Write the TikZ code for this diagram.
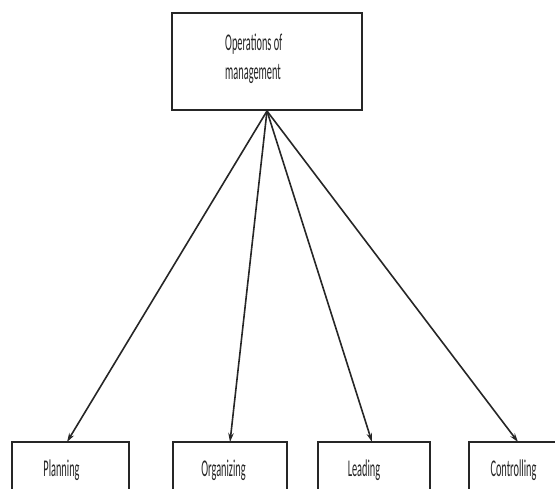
\documentclass[tikz,border=0pt]{standalone}
\usepackage{fontspec}
\newfontfamily\lbfont[FakeStretch=0.43]{Carlito}
\usetikzlibrary{arrows.meta}
\begin{document}
\begin{tikzpicture}[x=1pt,y=-1pt,
  box/.style={draw=black!85, line width=2pt, rectangle, inner sep=0pt, fill=white},
  lbl/.style={font=\lbfont\fontsize{24}{28}\selectfont, text=black!85, inner sep=0pt},
  arr/.style={-{Stealth[length=9pt,width=5.5pt]}, line width=1.6pt, draw=black!85}]
\useasboundingbox (0,0) rectangle (555,489);
\clip (0,0) rectangle (555,489);
% top box
\node[box, minimum width=190pt, minimum height=97pt] (top) at (267,61.5) {};
\node[lbl, anchor=base west] (t1) at (225,51) {Operations of};
\node[lbl, anchor=base west] (t2) at (225,80) {management};
% bottom boxes
\node[box, minimum width=117pt, minimum height=70pt] (plan) at (70.5,477) {};
\node[box, minimum width=114pt, minimum height=70pt] (org) at (230,477) {};
\node[box, minimum width=112pt, minimum height=70pt] (lead) at (374,477) {};
\node[box, minimum width=114pt, minimum height=70pt] (ctrl) at (526,477) {};
\node[lbl, anchor=base] (pl) at (61.5,476) {Planning};
\node[lbl, anchor=base] (ol) at (223.5,476) {Organizing};
\node[lbl, anchor=base] (ll) at (364,476) {Leading};
\node[lbl, anchor=base] (cl) at (513.5,476) {Controlling};
% connectors
\coordinate (src) at (top.south);
\coordinate (pT) at (67,442);
\coordinate (oT) at (230,442);
\coordinate (lT) at (372,442);
\coordinate (cT) at (518,442);
\draw[arr] (src) -- (pT);
\draw[arr] (src) -- (oT);
\draw[arr] (src) -- (lT);
\draw[arr] (src) -- (cT);
\end{tikzpicture}
\end{document}
